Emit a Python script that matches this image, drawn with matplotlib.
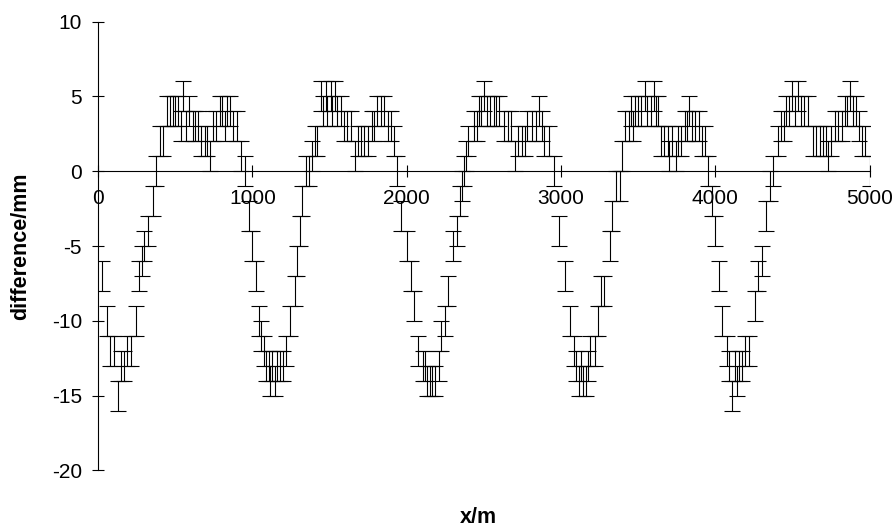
import matplotlib
matplotlib.use('Agg')
import matplotlib.pyplot as plt

plt.rcParams['font.family'] = ['Liberation Sans', 'DejaVu Sans']
plt.rcParams['axes.unicode_minus'] = False

x_0_1000 = [25, 55, 80, 100, 129, 147, 165, 188, 210, 247,
            265, 282, 300, 325, 356, 375, 402, 422, 448, 463,
            482, 500, 515, 535, 552, 570, 587, 613, 631, 648,
            668, 690, 705, 722, 744, 766, 788, 803, 820, 838,
            853, 875, 897, 925, 950, 975]
y_0_1000 = [-7, -10, -12, -12, -15, -13, -13, -12, -12, -10,
            -7, -6, -5, -4, -2, 0, 2, 2, 4, 4,
            4, 4, 4, 3, 5, 3, 4, 3, 3, 3,
            2, 2, 2, 1, 3, 3, 4, 4, 3, 4,
            4, 3, 3, 1, 0, -3]

x_1000_2000 = [1000, 1020, 1040, 1058, 1072, 1090, 1105, 1115, 1130, 1147,
               1160, 1178, 1197, 1220, 1246, 1278, 1291, 1310, 1324, 1345,
               1368, 1384, 1403, 1419, 1446, 1460, 1474, 1485, 1507, 1517,
               1537, 1550, 1572, 1594, 1616, 1637, 1663, 1681, 1703, 1724,
               1746, 1772, 1790, 1807, 1833, 1851, 1881, 1899, 1920, 1940,
               1962]
y_1000_2000 = [-5, -7, -10, -11, -12, -13, -13, -14, -13, -14,
               -13, -13, -13, -12, -10, -8, -6, -4, -2, 0,
               0, 1, 2, 2, 5, 4, 5, 4, 5, 4,
               5, 4, 4, 3, 3, 3, 1, 2, 2, 2,
               2, 3, 3, 4, 4, 4, 3, 3, 2, 0,
               -3]

x_2000_3000 = [1999, 2025, 2047, 2073, 2103, 2120, 2134, 2151, 2165, 2182,
               2208, 2221, 2247, 2269, 2297, 2323, 2343, 2356, 2371, 2384,
               2400, 2433, 2454, 2465, 2480, 2498, 2520, 2541, 2563, 2580,
               2596, 2629, 2657, 2678, 2701, 2720, 2745, 2768, 2781, 2809,
               2835, 2857, 2875, 2890, 2922, 2956, 2984]
y_2000_3000 = [-5, -7, -9, -12, -13, -13, -14, -14, -14, -14,
               -13, -11, -10, -8, -5, -4, -2, -1, 0, 1,
               2, 3, 3, 4, 4, 5, 4, 4, 4, 4,
               4, 3, 3, 3, 1, 2, 2, 2, 3, 3,
               3, 4, 3, 2, 2, 0, -4]

x_3000_4000 = [3027, 3058, 3086, 3100, 3114, 3130, 3141, 3162, 3175, 3188,
               3217, 3240, 3260, 3278, 3315, 3330, 3358, 3380, 3397, 3417,
               3439, 3452, 3467, 3480, 3500, 3520, 3545, 3560, 3580, 3600,
               3615, 3630, 3650, 3670, 3690, 3700, 3720, 3744, 3760, 3780,
               3800, 3815, 3831, 3850, 3870, 3892, 3911, 3931, 3953, 3975]
y_3000_4000 = [-7, -10, -12, -13, -14, -13, -14, -14, -13, -12,
               -12, -10, -8, -8, -5, -3, -1, -1, 1, 3,
               3, 4, 3, 4, 4, 4, 5, 4, 4, 5,
               4, 4, 2, 2, 2, 1, 2, 1, 2, 2,
               3, 3, 4, 3, 3, 3, 2, 2, 0, -2]

x_4000_5000 = [3997, 4023, 4044, 4073, 4090, 4110, 4125, 4140, 4155, 4170,
               4195, 4219, 4256, 4273, 4299, 4328, 4356, 4371, 4404, 4426,
               4443, 4460, 4478, 4495, 4515, 4535, 4555, 4575, 4600, 4633,
               4655, 4680, 4700, 4715, 4731, 4750, 4775, 4795, 4818, 4838,
               4855, 4870, 4890, 4910, 4930, 4949, 4971, 5000]
y_4000_5000 = [-4, -7, -10, -12, -13, -15, -13, -14, -13, -13,
               -12, -12, -9, -7, -6, -3, -1, 0, 2, 3,
               3, 4, 4, 5, 4, 5, 4, 4, 4, 2,
               2, 2, 2, 2, 1, 2, 3, 3, 3, 4,
               4, 5, 4, 4, 3, 2, 2, 0]

err_mm = 1

x_m = x_0_1000 + x_1000_2000 + x_2000_3000 + x_3000_4000 + x_4000_5000
diff_mm = y_0_1000 + y_1000_2000 + y_2000_3000 + y_3000_4000 + y_4000_5000

fig = plt.figure(figsize=(8.92, 5.29), dpi=100)
ax = fig.add_axes([0.110, 0.1106, 0.865, 0.8485])

ax.errorbar(x_m, diff_mm, yerr=err_mm, fmt='none', ecolor='black',
            elinewidth=0.8, capsize=5.5, capthick=0.8, zorder=3)

ax.set_xlim(0, 5000)
ax.set_ylim(-20, 10)
ax.spines['bottom'].set_position(('data', 0))
ax.spines['top'].set_visible(False)
ax.spines['right'].set_visible(False)
for s in ['left', 'bottom']:
    ax.spines[s].set_linewidth(0.8)

ax.set_xticks(range(0, 5001, 1000))
ax.set_yticks(range(-20, 11, 5))
ax.tick_params(direction='inout', length=8.5, width=0.8, labelsize=15)
ax.tick_params(axis='x', pad=8.5)
ax.tick_params(axis='y', pad=7.4)

fig.text(0.0235, 0.535, 'difference/mm', rotation=90, fontsize=15.5,
         fontweight='bold', ha='center', va='center')
fig.text(0.536, 0.021, 'x/m', fontsize=15.5, fontweight='bold',
         ha='center', va='center')

fig.savefig('out.png', dpi=100)
